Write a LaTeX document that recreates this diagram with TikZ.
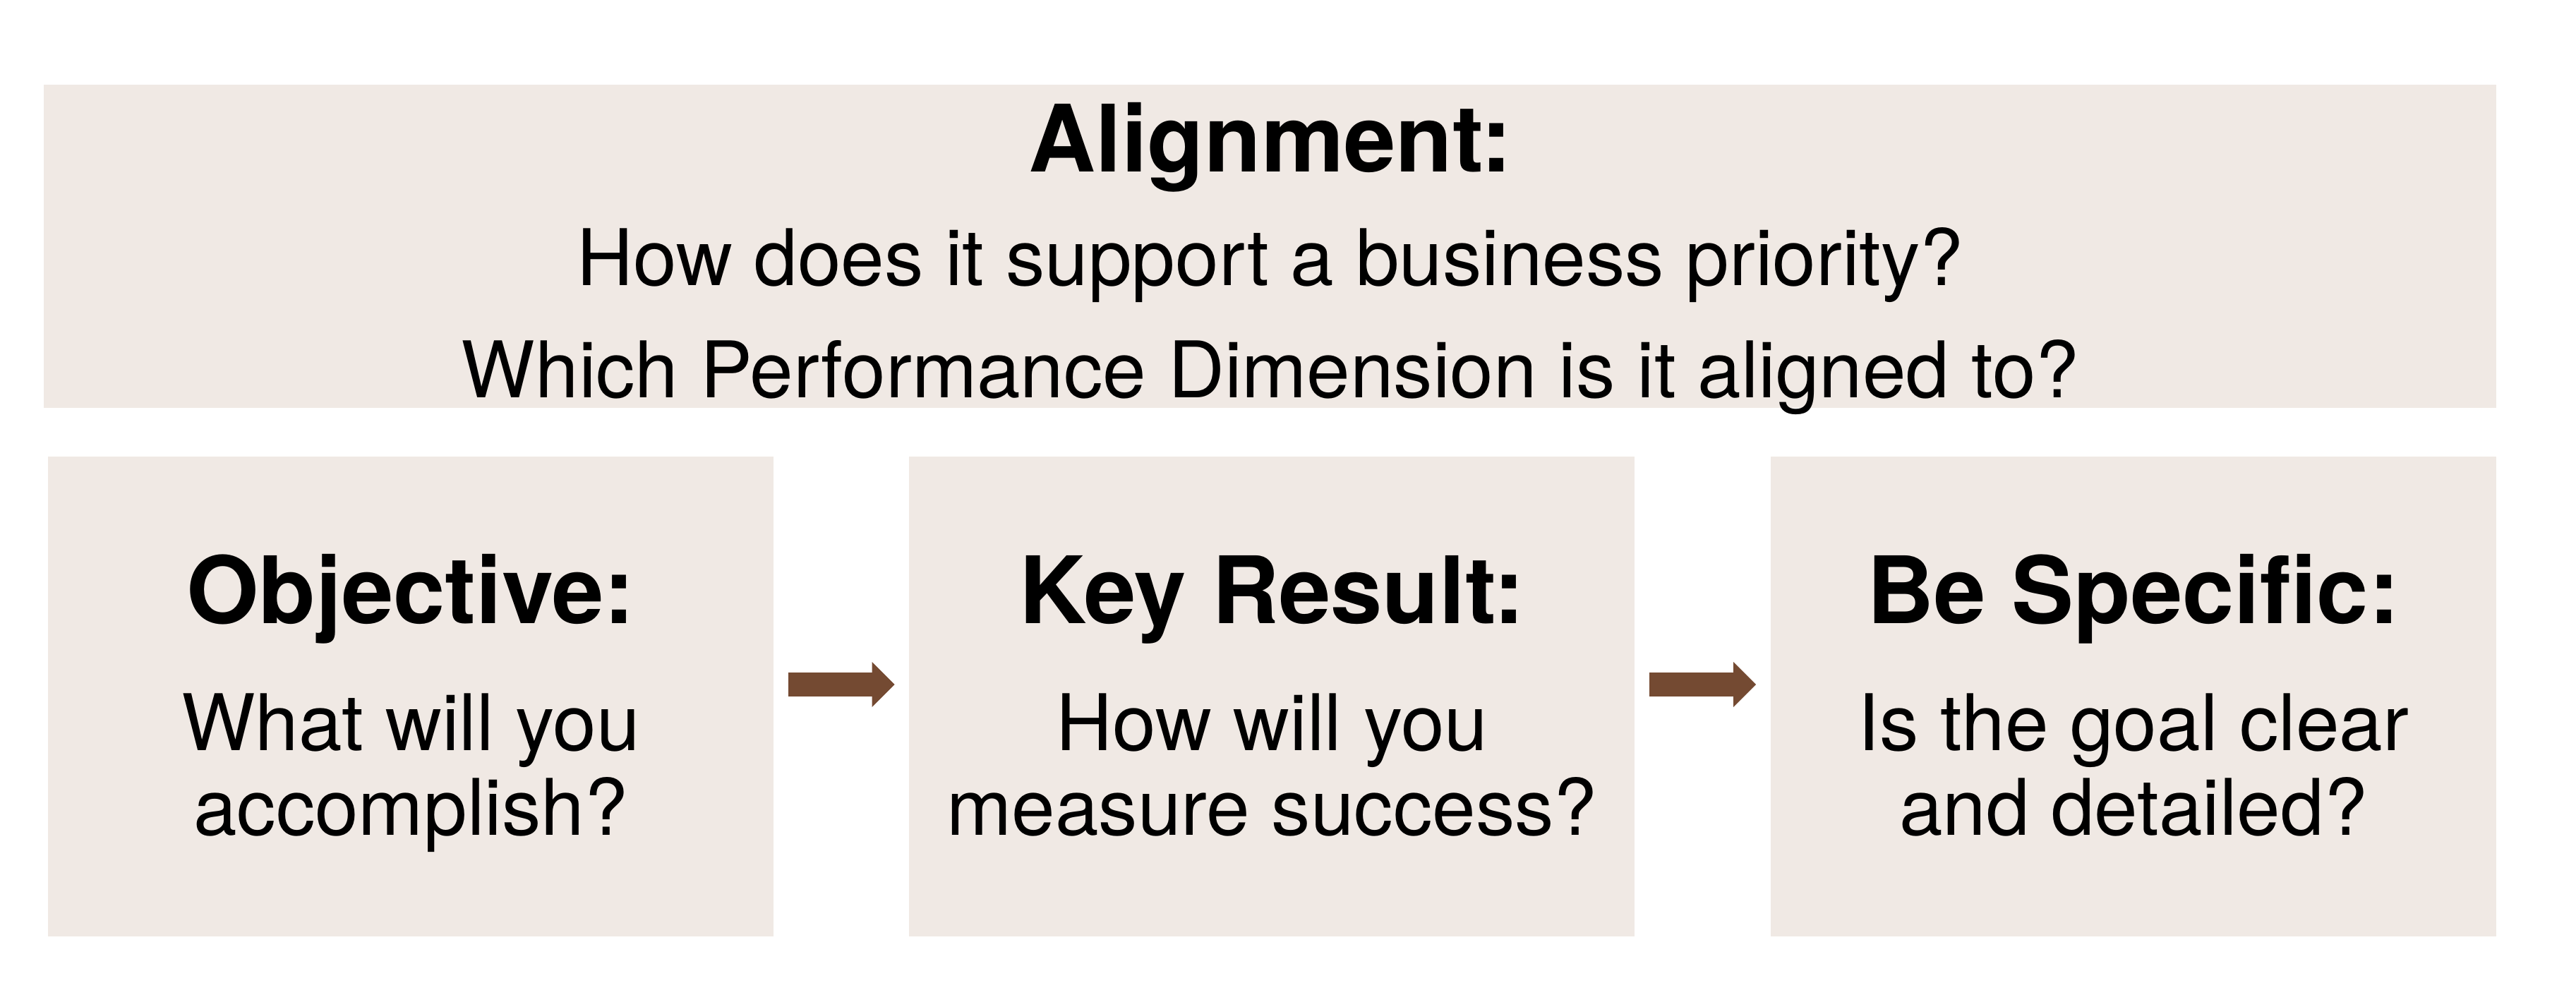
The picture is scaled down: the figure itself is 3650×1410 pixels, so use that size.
\documentclass[tikz,border=0pt]{standalone}
\usepackage{fontspec}
\setmainfont{TeX Gyre Heros}
\usepackage{tikz}
\usetikzlibrary{positioning,arrows.meta}

\definecolor{panelfill}{RGB}{240,233,228}
\definecolor{arrowbrown}{RGB}{116,74,50}

\begin{document}
\begin{tikzpicture}[x=0.1mm,y=-0.1mm]
\tikzstyle{every node}+=[inner sep=0pt]
\tikzstyle{panel}=[fill=panelfill, draw=none, minimum width=10.28cm, minimum height=6.8cm]
\tikzstyle{headtext}=[anchor=base, font=\fontsize{37.5}{40}\selectfont\bfseries]
\tikzstyle{bodytext}=[anchor=base, align=center, font=\fontsize{31.5}{34.1}\selectfont]
\tikzstyle{flow}=[draw=arrowbrown, line width=3.4mm, shorten <=2mm, shorten >=2mm,
  -{Triangle[length=3.2mm, width=6.4mm, line width=0pt]}]
\useasboundingbox (0,0) rectangle (3650,1410);
% top banner
\node [fill=panelfill, minimum width=34.75cm, minimum height=4.58cm] (alignbox) at (1799.5,349) {};
\node [headtext] (aligntitle) at (1800,243) {Alignment:};
% base of a two-line node sits on its last line
\node [anchor=base, align=center, font=\fontsize{31.5}{45}\selectfont] (aligntext) at (1800,563)
  {How does it support a business priority?\\Which Performance Dimension is it aligned to?};
% three steps
\node [panel] (objbox) at (582,987) {};
\node [panel, right=1.91cm of objbox] (krbox) {};
\node [panel, right=1.91cm of krbox] (specbox) {};
\node [headtext] (objtitle) at (objbox |- 0,883) {Objective:};
\node [headtext] (krtitle) at (krbox |- 0,883) {Key Result:};
\node [headtext] (spectitle) at (specbox |- 0,883) {Be Specific:};
\node [bodytext] (objtext) at (objbox |- 0,1183) {What will you\\accomplish?};
\node [bodytext] (krtext) at (krbox |- 0,1183) {How will you\\measure success?};
\node [bodytext] (spectext) at (specbox |- 0,1183) {Is the goal clear\\and detailed?};
\draw [flow] ([yshift=1.7mm]objbox.east) -- ([yshift=1.7mm]krbox.west);
\draw [flow] ([yshift=1.7mm]krbox.east) -- ([yshift=1.7mm]specbox.west);
\end{tikzpicture}
\end{document}
